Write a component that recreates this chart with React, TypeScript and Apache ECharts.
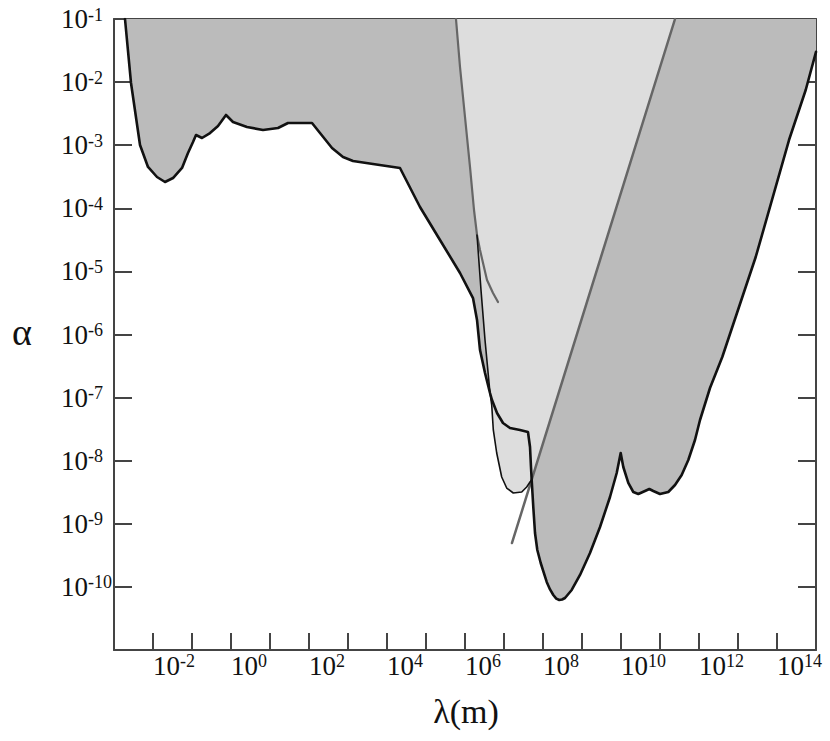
import React, { useEffect, useRef } from 'react';
import * as echarts from 'echarts';

// All values are decimal exponents: [log10(λ / m), log10(α)]
const X_MIN = -3;
const X_MAX = 15;
const Y_MIN = -11;
const Y_MAX = -1;

const xLabelExponents = [-2, 0, 2, 4, 6, 8, 10, 12, 14];
const yLabelExponents = [-10, -9, -8, -7, -6, -5, -4, -3, -2, -1];

// thick black exclusion boundary (left part)
const edgeCurve: number[][] = [
  [-2.718, -1.0], [-2.564, -2.014], [-2.333, -2.997], [-2.128, -3.345], [-1.897, -3.504],
  [-1.692, -3.583], [-1.487, -3.52], [-1.256, -3.361], [-1.103, -3.124], [-0.974, -2.949],
  [-0.897, -2.838], [-0.744, -2.886], [-0.538, -2.807], [-0.333, -2.696], [-0.128, -2.521],
  [0.051, -2.632], [0.41, -2.712], [0.821, -2.759], [1.205, -2.727], [1.462, -2.648],
  [2.077, -2.648], [2.282, -2.807], [2.59, -3.044], [2.872, -3.187], [3.128, -3.25],
  [3.641, -3.298], [4.333, -3.361], [4.846, -3.979], [5.359, -4.502], [5.872, -5.025],
  [6.205, -5.422], [6.308, -5.77], [6.385, -6.246], [6.513, -6.61], [6.641, -6.927],
];
// thick black step
const stepCurve: number[][] = [
  [6.692, -7.038], [6.821, -7.244], [6.974, -7.403], [7.154, -7.482], [7.41, -7.513],
  [7.615, -7.545], [7.667, -7.783], [7.692, -8.1],
];
// thick black boundary (right part)
const rightCurve: number[][] = [
  [7.71, -8.306], [7.751, -8.734], [7.795, -9.146], [7.854, -9.415], [7.941, -9.621],
  [8.095, -9.922], [8.18, -10.04], [8.264, -10.128], [8.34, -10.185], [8.418, -10.208],
  [8.49, -10.2], [8.564, -10.176], [8.736, -10.049],
  [8.949, -9.811], [9.205, -9.463], [9.462, -9.051], [9.718, -8.575], [9.89, -8.195],
  [9.992, -7.878], [10.059, -8.1], [10.187, -8.353], [10.315, -8.496], [10.444, -8.528],
  [10.615, -8.48], [10.726, -8.448], [10.828, -8.48], [11.0, -8.528], [11.213, -8.496],
  [11.385, -8.385], [11.556, -8.227], [11.726, -7.989], [11.897, -7.672], [12.026, -7.355],
  [12.282, -6.848], [12.597, -6.357], [13.454, -4.772], [14.308, -2.918], [14.736, -2.125],
  [15.0, -1.52],
];
// grey curve (upper part) and its hook
const grayCurve: number[][] = [
  [5.769, -1.0], [5.872, -1.761], [6.0, -2.553], [6.128, -3.345], [6.231, -4.027], [6.308, -4.423],
];
const grayHook: number[][] = [
  [6.385, -4.661], [6.462, -4.867], [6.564, -5.136], [6.718, -5.342], [6.846, -5.485],
];
// thin black boundary and the lower pocket
const thinCurve: number[][] = [
  [6.308, -4.423], [6.41, -5.295], [6.513, -6.087], [6.641, -6.927],
];
const uCurve: number[][] = [
  [6.685, -7.117], [6.726, -7.513], [6.813, -7.878], [6.941, -8.258], [7.069, -8.433],
  [7.238, -8.512], [7.454, -8.496], [7.582, -8.417], [7.667, -8.338], [7.71, -8.306],
];
// straight grey line (slope 2)
const slopeLine: number[][] = [
  [11.385, -1.0], [7.205, -9.304],
];

const FONT = 'Liberation Serif, serif';
const DARK = '#bbbbbb';
const LIGHT = '#dddddd';
const AXIS = '#444444';

const rev = (a: number[][]) => a.slice().reverse();

const leftDark = [...edgeCurve, ...rev(thinCurve), ...rev(grayCurve)];
const lightRegion = [...grayCurve, ...thinCurve.slice(1), ...uCurve, slopeLine[0]];
const rightDark = [slopeLine[0], [X_MAX, Y_MAX], ...rev(rightCurve)];

function polygonSeries(points: number[][], fill: string, z: number) {
  return {
    type: 'custom',
    coordinateSystem: 'cartesian2d',
    silent: true,
    z,
    data: [points[0]],
    renderItem: (_params: any, api: any) => ({
      type: 'polygon',
      shape: { points: points.map((p) => api.coord(p)) },
      style: { fill, stroke: null },
    }),
  };
}

function lineSeries(points: number[][], color: string, width: number, z: number) {
  return {
    type: 'line',
    data: points,
    showSymbol: false,
    symbol: 'none',
    silent: true,
    z,
    lineStyle: { color, width, cap: 'round', join: 'round' },
  };
}

const rich = {
  b: { fontFamily: FONT, fontSize: 27, color: '#111111', lineHeight: 27 },
  s: { fontFamily: FONT, fontSize: 18, color: '#111111', lineHeight: 17, verticalAlign: 'top' },
};

const tickStyle = { inside: true, lineStyle: { color: AXIS, width: 2 } };
const lineStyleAxis = { onZero: false, lineStyle: { color: AXIS, width: 2 } };

export default function App() {
  const ref = useRef<HTMLDivElement>(null);
  useEffect(() => {
    if (!ref.current) return;
    const chart = echarts.init(ref.current, null, { renderer: 'svg' });
    chart.setOption({
      animation: false,
      backgroundColor: '#ffffff',
      grid: { left: 114, right: 14, top: 19, bottom: 91 },
      xAxis: [
        {
          type: 'value', min: X_MIN, max: X_MAX, interval: 1, position: 'bottom',
          axisLine: lineStyleAxis,
          axisTick: { ...tickStyle, length: 17 },
          splitLine: { show: false },
          axisLabel: {
            margin: 2, align: 'left', fontFamily: FONT, fontSize: 27, color: '#111111', rich,
            formatter: (v: number) => {
              const e = Math.round(v);
              return xLabelExponents.includes(e) ? `{b|10}{s|${e}}` : '';
            },
          },
        },
        {
          type: 'value', min: X_MIN, max: X_MAX, interval: 1, position: 'top',
          axisLine: lineStyleAxis,
          axisTick: { ...tickStyle, length: 17 },
          splitLine: { show: false },
          axisLabel: { show: false },
        },
      ],
      yAxis: [
        {
          type: 'value', min: Y_MIN, max: Y_MAX, interval: 1, position: 'left',
          axisLine: lineStyleAxis,
          axisTick: { ...tickStyle, length: 18 },
          splitLine: { show: false },
          axisLabel: {
            margin: 53, align: 'left', fontFamily: FONT, fontSize: 27, color: '#111111', rich,
            formatter: (v: number) => {
              const e = Math.round(v);
              return yLabelExponents.includes(e) ? `{b|10}{s|${e}}` : '';
            },
          },
        },
        {
          type: 'value', min: Y_MIN, max: Y_MAX, interval: 1, position: 'right',
          axisLine: lineStyleAxis,
          axisTick: { ...tickStyle, length: 18 },
          splitLine: { show: false },
          axisLabel: { show: false },
        },
      ],
      graphic: [
        {
          type: 'text', x: 12, y: 332, silent: true,
          style: { text: 'α', fontFamily: FONT, fontSize: 38, fill: '#111', align: 'left', verticalAlign: 'middle' },
        },
        {
          type: 'text', x: 466, y: 711, silent: true,
          style: { text: 'λ(m)', fontFamily: FONT, fontSize: 34, fill: '#111', align: 'center', verticalAlign: 'middle' },
        },
      ],
      series: [
        polygonSeries(leftDark, DARK, 1),
        polygonSeries(lightRegion, LIGHT, 1),
        polygonSeries(rightDark, DARK, 1),
        lineSeries([...grayCurve, ...grayHook], '#666666', 2.2, 3),
        lineSeries(slopeLine, '#666666', 2.5, 3),
        lineSeries([...thinCurve, ...uCurve], '#111111', 1.6, 4),
        lineSeries([...edgeCurve, ...stepCurve, ...rightCurve], '#111111', 2.6, 5),
      ],
    });
    return () => chart.dispose();
  }, []);
  return <div ref={ref} style={{ position: 'absolute', left: 0, top: 0, width: 830, height: 741 }} />;
}
